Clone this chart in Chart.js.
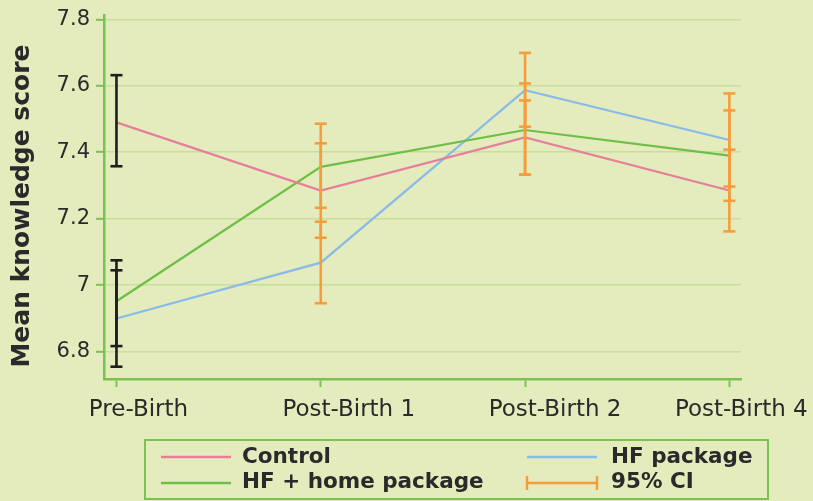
<!DOCTYPE html>
<html>
<head>
<meta charset="utf-8">
<script src="https://cdn.jsdelivr.net/npm/chart.js@4.4.1/dist/chart.umd.min.js"></script>
<style>
  html, body { margin: 0; padding: 0; background: #e4ebbc; }
  #wrap { width: 813px; height: 501px; }
</style>
</head>
<body>
<div id="wrap"><canvas id="chart" width="813" height="501"></canvas></div>
<script>
// categories and values
const categories = ['Pre-Birth', 'Post-Birth 1', 'Post-Birth 2', 'Post-Birth 4'];

const control = [7.49, 7.285, 7.445, 7.285];
const hfPackage = [6.9, 7.068, 7.587, 7.437];
const hfHome = [6.952, 7.356, 7.467, 7.39];

// 95% CI bounds
const controlLow = [7.358, 7.143, 7.333, 7.162];
const controlHigh = [7.632, 7.427, 7.556, 7.408];
const hfPackageLow = [6.755, 6.946, 7.477, 7.297];
const hfPackageHigh = [7.045, 7.191, 7.699, 7.577];
const hfHomeLow = [6.817, 7.233, 7.333, 7.254];
const hfHomeHigh = [7.075, 7.486, 7.607, 7.526];

const yTickValues = [6.8, 7, 7.2, 7.4, 7.6, 7.8];
const yTickLabels = ['6.8', '7', '7.2', '7.4', '7.6', '7.8'];

const yTitle = 'Mean knowledge score';
const legendLabels = ['Control', 'HF package', 'HF + home package', '95% CI'];

const PINK = '#e57f9b';
const BLUE = '#88bbe9';
const GREEN = '#6dbf45';
const ORANGE = '#f59d3d';
const BLACK = '#1e1e1e';
const AXIS = '#79c253';
const GRID = '#c8de9c';
const TEXT = '#2a2a2a';
const FONT = '"DejaVu Sans", sans-serif';

// the category labels sit a little right of their tick marks in the original
const labelShift = [22, 28, 30, 12];

function points(values) {
    return values.map((v, i) => ({ x: i, y: v }));
}

const series = [
    { label: legendLabels[0], values: control, color: PINK },
    { label: legendLabels[2], values: hfHome, color: GREEN },
    { label: legendLabels[1], values: hfPackage, color: BLUE }
];

const bounds = [
    [controlLow, controlHigh],
    [hfPackageLow, hfPackageHigh],
    [hfHomeLow, hfHomeHigh]
];

const datasets = series.map(s => ({
    label: s.label,
    data: points(s.values),
    borderColor: s.color,
    borderWidth: 2.2,
    pointRadius: 0,
    tension: 0
}));

// each CI is a tiny two-point line with flat caps
categories.forEach((c, i) => {
    bounds.forEach(([lo, hi]) => {
        const col = i === 0 ? BLACK : ORANGE;
        datasets.push({
            label: 'ci',
            data: [{ x: i, y: lo[i] }, { x: i, y: hi[i] }],
            borderColor: col,
            borderWidth: 2.6,
            pointStyle: 'line',
            pointRadius: 6,
            pointBorderColor: col,
            pointBorderWidth: 2.6,
            order: -1
        });
    });
});

const background = {
    id: 'background',
    beforeDraw(chart) {
        const ctx = chart.ctx;
        ctx.save();
        ctx.fillStyle = '#e4ebbc';
        ctx.fillRect(0, 0, chart.width, chart.height);
        ctx.restore();
    }
};

const axisText = {
    id: 'axisText',
    afterDraw(chart) {
        const ctx = chart.ctx;
        const xs = chart.scales.x;
        ctx.save();
        ctx.fillStyle = TEXT;
        ctx.font = '23px ' + FONT;
        ctx.textAlign = 'center';
        ctx.textBaseline = 'alphabetic';
        categories.forEach((c, i) => {
            ctx.fillText(c, xs.getPixelForValue(i) + labelShift[i], 416);
        });

        // rotated y title, a bit lower than the plot centre like the original
        ctx.translate(22, 206);
        ctx.rotate(-Math.PI / 2);
        ctx.font = 'bold 25px ' + FONT;
        ctx.textBaseline = 'middle';
        ctx.fillText(yTitle, 0, 0);
        ctx.restore();
    }
};

const boxLegend = {
    id: 'boxLegend',
    afterDraw(chart) {
        const ctx = chart.ctx;
        ctx.save();
        ctx.strokeStyle = AXIS;
        ctx.lineWidth = 2;
        ctx.strokeRect(145, 440, 623, 59);

        const rows = [[457, 463], [483, 488]];
        const cols = [[161, 231, 242], [527, 597, 611]];
        const items = [
            { text: legendLabels[0], color: PINK, col: 0, row: 0 },
            { text: legendLabels[1], color: BLUE, col: 1, row: 0 },
            { text: legendLabels[2], color: GREEN, col: 0, row: 1 },
            { text: legendLabels[3], color: ORANGE, col: 1, row: 1, ci: true }
        ];
        items.forEach(it => {
            const [x0, x1, tx] = cols[it.col];
            const [y, base] = rows[it.row];
            ctx.strokeStyle = it.color;
            ctx.lineWidth = 2.4;
            ctx.beginPath();
            ctx.moveTo(x0, y);
            ctx.lineTo(x1, y);
            if (it.ci) {
                ctx.moveTo(x0, y - 7);
                ctx.lineTo(x0, y + 7);
                ctx.moveTo(x1, y - 7);
                ctx.lineTo(x1, y + 7);
            }
            ctx.stroke();
            ctx.fillStyle = TEXT;
            ctx.font = 'bold 21.5px ' + FONT;
            ctx.textBaseline = 'alphabetic';
            ctx.fillText(it.text, tx, base);
        });
        ctx.restore();
    }
};

new Chart(document.getElementById('chart'), {
    type: 'line',
    data: { datasets: datasets },
    plugins: [background, axisText, boxLegend],
    options: {
        responsive: false,
        animation: false,
        layout: { padding: { left: 0, right: 72, top: 15, bottom: 0 } },
        plugins: {
            legend: { display: false },
            tooltip: { enabled: false }
        },
        scales: {
            x: {
                type: 'linear',
                min: -0.061,
                max: 3.057,
                afterBuildTicks: scale => {
                    scale.ticks = categories.map((c, i) => ({ value: i }));
                },
                afterFit: scale => {
                    scale.height = 122;
                    scale.paddingLeft = 0;
                    scale.paddingRight = 0;
                },
                ticks: { display: false },
                grid: {
                    drawOnChartArea: false,
                    tickLength: 8,
                    tickColor: AXIS,
                    tickWidth: 2
                },
                border: { color: AXIS, width: 2.5 }
            },
            y: {
                min: 6.718,
                max: 7.813,
                afterBuildTicks: scale => {
                    scale.ticks = yTickValues.map(v => ({ value: v }));
                },
                afterFit: scale => {
                    scale.width = 104;
                    scale.paddingTop = 0;
                    scale.paddingBottom = 0;
                },
                ticks: {
                    padding: 6,
                    color: TEXT,
                    font: { family: FONT, size: 21 },
                    callback: (v, i) => yTickLabels[i]
                },
                grid: {
                    color: GRID,
                    lineWidth: 1.6,
                    tickLength: 8,
                    tickColor: AXIS,
                    tickWidth: 2
                },
                border: { color: AXIS, width: 2.5 }
            }
        }
    }
});
</script>
</body>
</html>
